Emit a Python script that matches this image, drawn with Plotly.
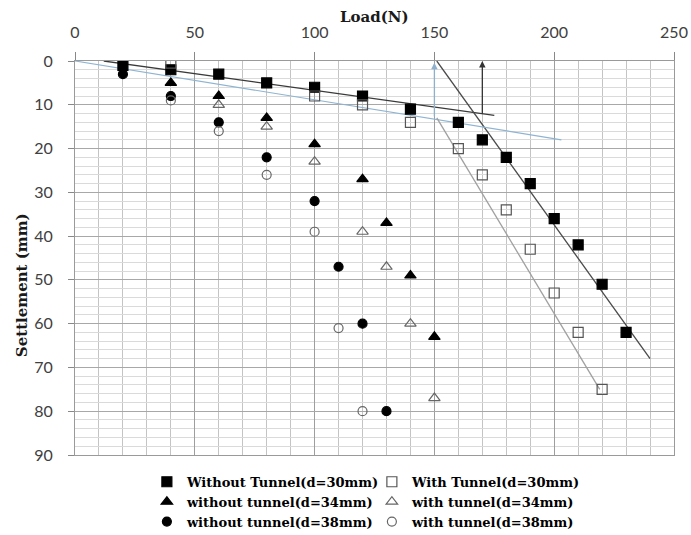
import plotly.graph_objects as go

# ---------------- data ----------------
load_wo30 = [20, 40, 60, 80, 100, 120, 140, 160, 170, 180, 190, 200, 210, 220, 230]
set_wo30 = [1, 2, 3, 5, 6, 8, 11, 14, 18, 22, 28, 36, 42, 51, 62]

load_w30 = [40, 100, 120, 140, 160, 170, 180, 190, 200, 210, 220]
set_w30 = [0.5, 8, 10, 14, 20, 26, 34, 43, 53, 62, 75]

load_wo34 = [40, 60, 80, 100, 120, 130, 140, 150]
set_wo34 = [5, 8, 13, 19, 27, 37, 49, 63]

load_w34 = [60, 80, 100, 120, 130, 140, 150]
set_w34 = [10, 15, 23, 39, 47, 60, 77]

load_wo38 = [20, 40, 60, 80, 100, 110, 120, 130]
set_wo38 = [3, 8, 14, 22, 32, 47, 60, 80]

load_w38 = [40, 60, 80, 100, 110, 120]
set_w38 = [9, 16, 26, 39, 61, 80]

# tangent lines used to read the failure load (data units)
tan_wo_initial_x = [12, 175]
tan_wo_initial_y = [0, 12.4]
tan_wo_final_x = [151, 240]
tan_wo_final_y = [0, 68]
tan_w_initial_x = [0, 203]
tan_w_initial_y = [0, 18]
tan_w_final_x = [151, 219]
tan_w_final_y = [13, 75]

# failure-load arrows: x, from y, to y
arrow_x = [150, 170]
arrow_from_y = [13, 12.4]
arrow_to_y = [0.4, 0]
arrow_colors = ["#8fb0cc", "#333333"]

x_ticks = [0, 50, 100, 150, 200, 250]
y_ticks = [0, 10, 20, 30, 40, 50, 60, 70, 80, 90]

names = [
    "Without Tunnel(d=30mm)", "With Tunnel(d=30mm)",
    "without tunnel(d=34mm)", "with tunnel(d=34mm)",
    "without tunnel(d=38mm)", "with tunnel(d=38mm)",
]

fig = go.Figure()

line_style = dict(mode="lines", showlegend=False, hoverinfo="skip")
fig.add_trace(go.Scatter(x=tan_wo_initial_x, y=tan_wo_initial_y, line=dict(color="#3a3a3a", width=1.3), **line_style))
fig.add_trace(go.Scatter(x=tan_wo_final_x, y=tan_wo_final_y, line=dict(color="#4a4a4a", width=1.3), **line_style))
fig.add_trace(go.Scatter(x=tan_w_initial_x, y=tan_w_initial_y, line=dict(color="#8fb4d2", width=1.2), **line_style))
fig.add_trace(go.Scatter(x=tan_w_final_x, y=tan_w_final_y, line=dict(color="#a0a0a0", width=1.3), **line_style))

series = [
    (load_wo30, set_wo30, "square", "black", 10),
    (load_w30, set_w30, "square-open", "#555555", 10),
    (load_wo34, set_wo34, "triangle-up", "black", 10),
    (load_w34, set_w34, "triangle-up-open", "#666666", 10),
    (load_wo38, set_wo38, "circle", "black", 9),
    (load_w38, set_w38, "circle-open", "#666666", 9),
]
for (xs, ys, sym, col, size), name in zip(series, names):
    fig.add_trace(go.Scatter(
        x=xs, y=ys, mode="markers", name=name,
        marker=dict(symbol=sym, size=size, color=col, line=dict(color=col, width=1.2)),
    ))

for ax_x, y0, y1, c in zip(arrow_x, arrow_from_y, arrow_to_y, arrow_colors):
    fig.add_annotation(
        x=ax_x, y=y1, ax=ax_x, ay=y0, xref="x", yref="y", axref="x", ayref="y",
        showarrow=True, arrowhead=2, arrowsize=1, arrowwidth=1.3, arrowcolor=c, text="",
    )

tick_font = dict(family="Lato, 'Open Sans', sans-serif", size=16, color="#404040")
serif_bold = "'DejaVu Serif', 'Liberation Serif', serif"

fig.update_xaxes(
    range=[0, 250], side="top", tickvals=x_ticks, ticks="outside", ticklen=8,
    tickcolor="#888888", tickfont=tick_font, showline=True, linecolor="#9a9a9a",
    linewidth=1, mirror=True, showgrid=True, gridcolor="#9e9e9e", gridwidth=1,
    minor=dict(dtick=10, showgrid=True, gridcolor="#c4c4c4", ticks=""),
    zeroline=False, ticklabelstandoff=8, automargin=False,
)
fig.update_yaxes(
    range=[90, 0], tickvals=y_ticks, ticks="outside", ticklen=6,
    tickcolor="#888888", tickfont=tick_font, showline=True, linecolor="#9a9a9a",
    linewidth=1, mirror=True, showgrid=True, gridcolor="#a8a8a8", gridwidth=1,
    minor=dict(dtick=2, showgrid=True, gridcolor="#dadada", ticks=""),
    zeroline=False, ticklabelstandoff=12, automargin=False,
)

fig.add_annotation(text="<b>Load(N)</b>", xref="paper", yref="paper", x=0.5, y=1.112,
                   showarrow=False, font=dict(family=serif_bold, size=15, color="#1a1a1a"),
                   xanchor="center", yanchor="middle")
fig.add_annotation(text="<b>Settlement (mm)</b>", xref="paper", yref="paper", x=-0.0885, y=0.431,
                   showarrow=False, textangle=-90, font=dict(family=serif_bold, size=15, color="#1a1a1a"),
                   xanchor="center", yanchor="middle")

fig.update_layout(
    width=691, height=535,
    margin=dict(l=75, r=17, t=61, b=80, autoexpand=False),
    paper_bgcolor="white", plot_bgcolor="white",
    legend=dict(
        orientation="h", x=0.12, y=-0.03, xanchor="left", yanchor="top",
        font=dict(family=serif_bold, size=13, color="black", weight="bold"),
        entrywidth=180, entrywidthmode="pixels", itemwidth=30,
        tracegroupgap=0, bgcolor="rgba(0,0,0,0)",
    ),
)

fig.write_html("out.html", config={"displayModeBar": False},
               post_script="document.body.style.margin='0px';")
